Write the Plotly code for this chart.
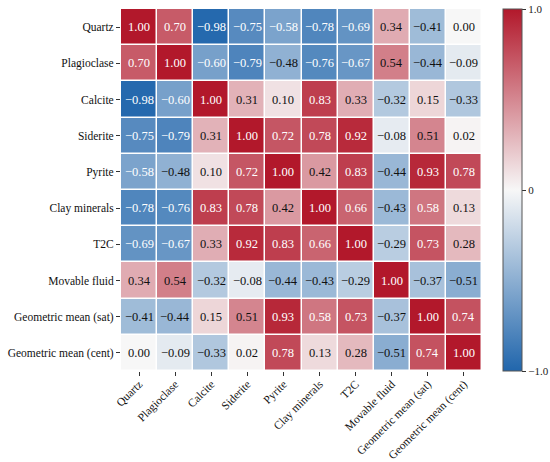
import plotly.graph_objects as go

labels = ["Quartz", "Plagioclase", "Calcite", "Siderite", "Pyrite", "Clay minerals",
          "T2C", "Movable fluid", "Geometric mean (sat)", "Geometric mean (cent)"]

corr = [
    [1.00, 0.70, -0.98, -0.75, -0.58, -0.78, -0.69, 0.34, -0.41, 0.00],
    [0.70, 1.00, -0.60, -0.79, -0.48, -0.76, -0.67, 0.54, -0.44, -0.09],
    [-0.98, -0.60, 1.00, 0.31, 0.10, 0.83, 0.33, -0.32, 0.15, -0.33],
    [-0.75, -0.79, 0.31, 1.00, 0.72, 0.78, 0.92, -0.08, 0.51, 0.02],
    [-0.58, -0.48, 0.10, 0.72, 1.00, 0.42, 0.83, -0.44, 0.93, 0.78],
    [-0.78, -0.76, 0.83, 0.78, 0.42, 1.00, 0.66, -0.43, 0.58, 0.13],
    [-0.69, -0.67, 0.33, 0.92, 0.83, 0.66, 1.00, -0.29, 0.73, 0.28],
    [0.34, 0.54, -0.32, -0.08, -0.44, -0.43, -0.29, 1.00, -0.37, -0.51],
    [-0.41, -0.44, 0.15, 0.51, 0.93, 0.58, 0.73, -0.37, 1.00, 0.74],
    [0.00, -0.09, -0.33, 0.02, 0.78, 0.13, 0.28, -0.51, 0.74, 1.00],
]

cbar_vals = [-1, 0, 1]
cbar_text = ["\u22121.0", "0", "1.0"]

FONT = "Liberation Serif"

colorscale = [[0.0, "#2166ac"], [0.5, "#f7f7f7"], [1.0, "#b2182b"]]

fig = go.Figure(go.Heatmap(
    z=corr, x=labels, y=labels,
    zmin=-1, zmax=1,
    colorscale=colorscale,
    xgap=1.5, ygap=1.5,
    hoverinfo="skip",
    colorbar=dict(
        x=1.058, xanchor="left", xpad=0,
        y=0.5, yanchor="middle", len=1.0, lenmode="fraction", ypad=0,
        thickness=19,
        outlinewidth=1, outlinecolor="#555555",
        tickvals=cbar_vals, ticktext=cbar_text,
        ticks="outside", ticklen=4, tickcolor="#333333",
        tickfont=dict(family=FONT, size=11, color="#222222"),
    ),
))

annotations = []
for i, row in enumerate(corr):
    for j, v in enumerate(row):
        txt = f"{v:.2f}".replace("-", "\u2212")
        annotations.append(dict(
            x=labels[j], y=labels[i], xref="x", yref="y",
            text=txt, showarrow=False,
            font=dict(family=FONT, size=12.5,
                      color="white" if abs(v) > 0.55 else "#111111"),
        ))

fig.update_layout(
    width=550, height=462,
    margin=dict(l=121, r=68, t=9, b=91, autoexpand=False),
    paper_bgcolor="white", plot_bgcolor="white",
    annotations=annotations,
    font=dict(family=FONT, size=11.5, color="#111111"),
)
fig.update_xaxes(
    tickangle=-45, ticks="outside", ticklen=4, tickcolor="#333333",
    ticklabelstandoff=-3,
    tickfont=dict(family=FONT, size=11.5, color="#111111"),
    showgrid=False, zeroline=False, showline=False, automargin=False,
)
fig.update_yaxes(
    autorange="reversed", ticks="outside", ticklen=4, tickcolor="#333333",
    tickfont=dict(family=FONT, size=11.5, color="#111111"),
    showgrid=False, zeroline=False, showline=False, automargin=False,
)

fig.write_html("out.html", config={"displayModeBar": False},
               post_script="document.body.style.margin='0';")
